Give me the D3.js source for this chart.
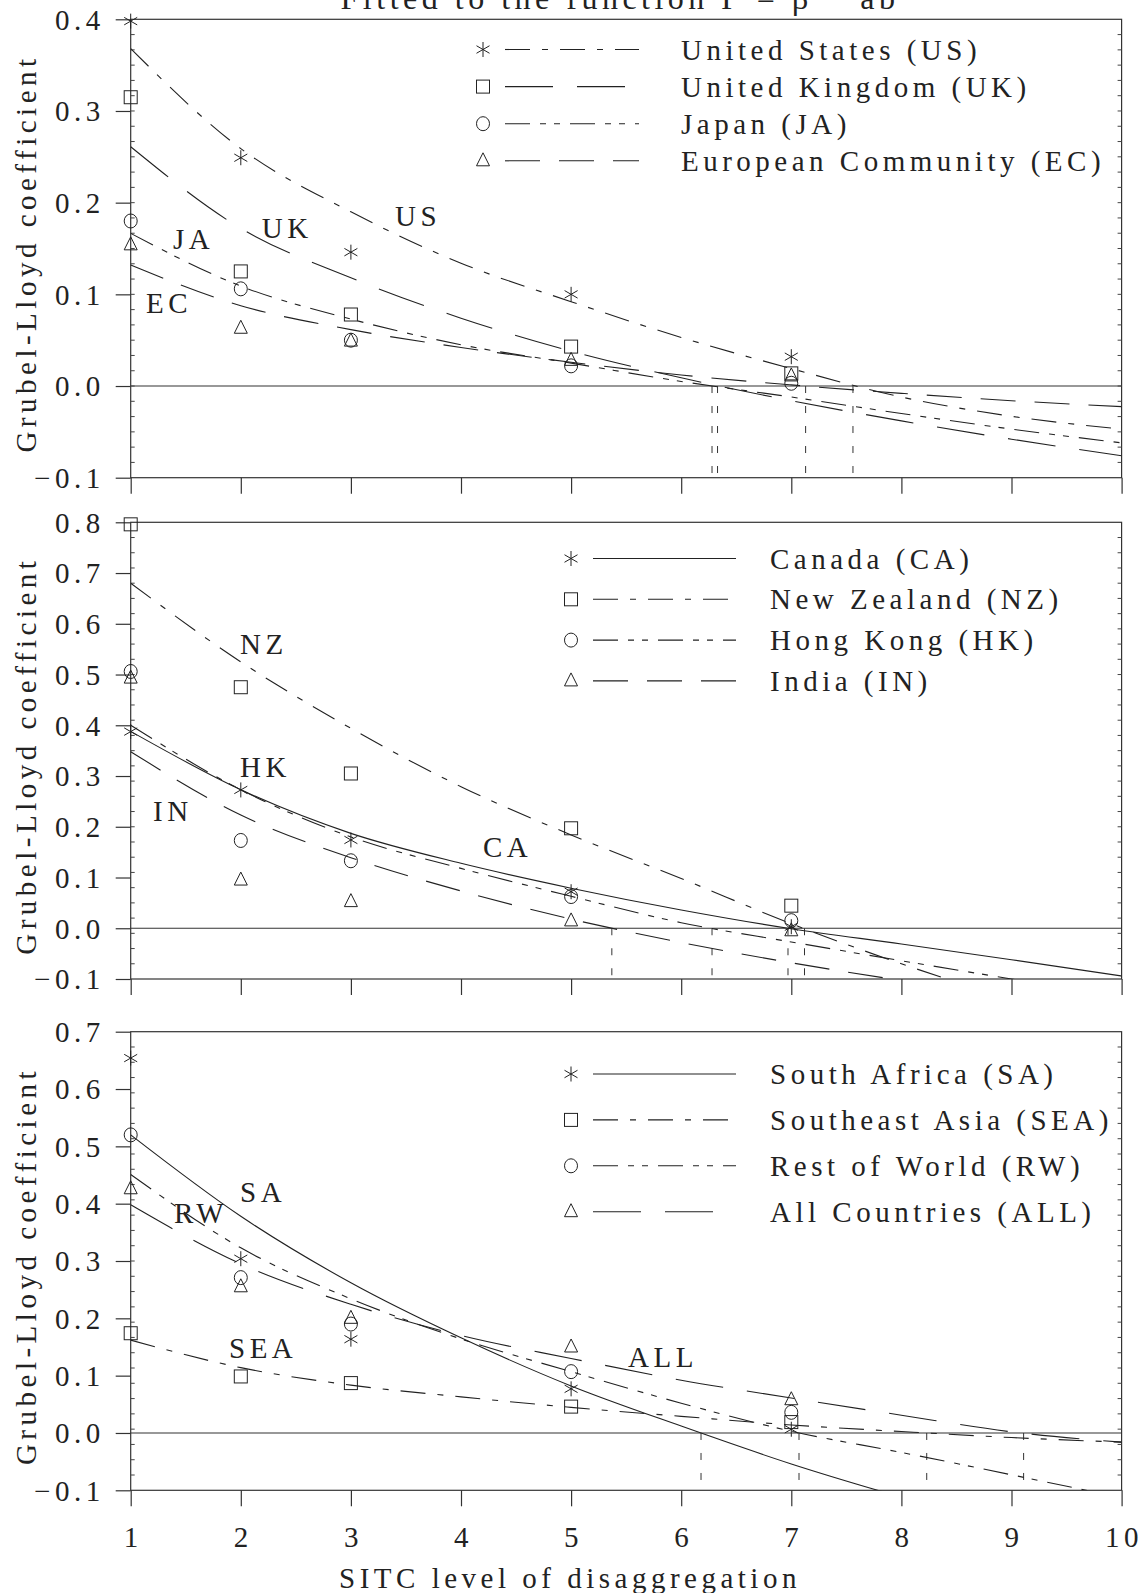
<!DOCTYPE html>
<html><head><meta charset="utf-8">
<script src="https://cdn.jsdelivr.net/npm/d3@7"></script>
<style>
body{margin:0;background:#fff;}
svg text{font-family:"Liberation Serif","Times New Roman",serif;fill:#222;letter-spacing:4.5px;font-size:29px;}
</style></head><body>
<svg id="c" width="1147" height="1593"></svg>
<script>
// ---------- data ----------
const fitLevels=[1,2,3,4,5,6,7,8,9,10];
const obsLevels=[1,2,3,5,7];
const xTickValues=[1,2,3,4,5,6,7,8,9,10];
const xTickLabels=["1","2","3","4","5","6","7","8","9","10"];

// panel 1
const yTicks1=[-0.1,0,0.1,0.2,0.3,0.4];
const yLabels1=["\u22120.1","0.0","0.1","0.2","0.3","0.4"];
const names1=["United States (US)","United Kingdom (UK)","Japan (JA)","European Community (EC)"];
const codes1=["US","UK","JA","EC"];
const usObs=[0.398,0.249,0.146,0.100,0.032];
const ukObs=[0.315,0.125,0.078,0.043,0.0138];
const jaObs=[0.180,0.106,0.050,0.022,0.003];
const ecObs=[0.154,0.063,0.049,0.028,0.011];
const usFit=[0.368,0.259,0.190,0.134,0.092,0.053,0.019,-0.012,-0.033,-0.047];
const ukFit=[0.261,0.172,0.118,0.074,0.038,0.009,-0.016,-0.038,-0.058,-0.076];
const jaFit=[0.1665,0.109,0.073,0.045,0.025,0.005,-0.012,-0.030,-0.047,-0.062];
const ecFit=[0.132,0.0876,0.0615,0.042,0.026,0.012,0.0012,-0.008,-0.016,-0.0225];
const zero1=[7.56,6.33,6.28,7.13];

// panel 2
const yTicks2=[-0.1,0,0.1,0.2,0.3,0.4,0.5,0.6,0.7,0.8];
const yLabels2=["\u22120.1","0.0","0.1","0.2","0.3","0.4","0.5","0.6","0.7","0.8"];
const names2=["Canada (CA)","New Zealand (NZ)","Hong Kong (HK)","India (IN)"];
const codes2=["CA","NZ","HK","IN"];
const caObs=[0.3875,0.2726,0.174,0.072,0.003];
const nzObs=[0.796,0.475,0.305,0.197,0.0445];
const hkObs=[0.506,0.173,0.133,0.0625,0.015];
const inObs=[0.493,0.095,0.0525,0.0145,-0.005];
const caFit=[0.388,0.273,0.187,0.128,0.079,0.036,-0.001,-0.031,-0.062,-0.094];
const nzFit=[0.680,0.525,0.394,0.279,0.184,0.098,0.009,-0.070,-0.140,-0.200];
const hkFit=[0.400,0.273,0.180,0.118,0.063,0.011,-0.027,-0.064,-0.100,-0.135];
const inFit=[0.348,0.223,0.139,0.0735,0.018,-0.028,-0.068,-0.103,-0.135,-0.165];
const zero2=[6.97,7.12,6.28,5.37];

// panel 3
const yTicks3=[-0.1,0,0.1,0.2,0.3,0.4,0.5,0.6,0.7];
const yLabels3=["\u22120.1","0.0","0.1","0.2","0.3","0.4","0.5","0.6","0.7"];
const names3=["South Africa (SA)","Southeast Asia (SEA)","Rest of World (RW)","All Countries (ALL)"];
const codes3=["SA","SEA","RW","ALL"];
const saObs=[0.654,0.304,0.1636,0.077,0.0065];
const seaObs=[0.174,0.0986,0.087,0.046,0.019];
const rwObs=[0.520,0.271,0.190,0.107,0.036];
const allObs=[0.426,0.255,0.200,0.150,0.058];
const saFit=[0.520,0.378,0.262,0.166,0.082,0.012,-0.054,-0.112,-0.165,-0.210];
const seaFit=[0.162,0.114,0.0835,0.063,0.0447,0.029,0.014,0.0025,-0.008,-0.016];
const rwFit=[0.451,0.323,0.234,0.164,0.107,0.052,0.003,-0.034,-0.073,-0.113];
const allFit=[0.398,0.295,0.2245,0.170,0.130,0.092,0.061,0.031,0.002,-0.016];
const zero3=[6.18,8.23,7.07,9.11];

const titleText="Fitted to the function  \u0393 = \u03b2 \u2212 ab";
const xTitle="SITC level of disaggregation";
const yTitle="Grubel-Lloyd coefficient";

// ---------- styles ----------
const DASHDOT="25,12,6,12", LONG="48,24", DDOT="25,10,6,8,6,10", MED="35,19";
const symbols=["star","square","circle","triangle"];

const panels=[
 {top:19.3,bottom:477.7,dom:[-0.1,0.4],ticks:yTicks1,labels:yLabels1,names:names1,codes:codes1,
  obs:[usObs,ukObs,jaObs,ecObs],fit:[usFit,ukFit,jaFit,ecFit],zero:zero1,
  dash:[DASHDOT,LONG,DDOT,MED],
  leg:{sx:483,l0:505,l1:639,tx:681,y0:49.5,dy:37.1},
  tag:[[3.40,0.1745],[2.19,0.161],[1.384,0.149],[1.139,0.0796]]},
 {top:522.3,bottom:979,dom:[-0.1,0.8],ticks:yTicks2,labels:yLabels2,names:names2,codes:codes2,
  obs:[caObs,nzObs,hkObs,inObs],fit:[caFit,nzFit,hkFit,inFit],zero:zero2,
  dash:[null,DASHDOT,DDOT,MED],
  leg:{sx:571,l0:593,l1:736,tx:770,y0:558.5,dy:40.8},
  tag:[[4.20,0.1405],[1.993,0.540],[1.993,0.298],[1.2025,0.211]]},
 {top:1031.7,bottom:1490.3,dom:[-0.1,0.7],ticks:yTicks3,labels:yLabels3,names:names3,codes:codes3,
  obs:[saObs,seaObs,rwObs,allObs],fit:[saFit,seaFit,rwFit,allFit],zero:zero3,
  dash:[null,DASHDOT,DDOT,LONG],
  leg:{sx:571,l0:593,l1:736,tx:770,y0:1074,dy:45.9},
  tag:[[1.993,0.403],[1.893,0.131],[1.393,0.366],[5.517,0.115]]}
];

const svg=d3.select("#c");
const X=d3.scaleLinear().domain([1,10]).range([130.7,1121.6]);
const INK="#222";

function drawSymbol(g,type,cx,cy){
  const s=g.append("g").attr("transform",`translate(${cx},${cy})`).attr("fill","none").attr("stroke",INK).attr("stroke-width",1);
  if(type==="star"){
    s.append("path").attr("d","M0,-7.5L0,7.5M-6.5,-3.75L6.5,3.75M-6.5,3.75L6.5,-3.75");
  }else if(type==="square"){
    s.append("rect").attr("x",-6.5).attr("y",-6.5).attr("width",13).attr("height",13);
  }else if(type==="circle"){
    s.append("ellipse").attr("rx",6.5).attr("ry",7);
  }else{
    s.append("path").attr("d","M0,-8L6.5,5L-6.5,5Z");
  }
}

// title (top of page, cut off as in the original)
svg.append("text").attr("x",620).attr("y",9).attr("text-anchor","middle")
  .style("font-size","32px").style("letter-spacing","4.5px").text(titleText);

panels.forEach((p,pi)=>{
  const Y=d3.scaleLinear().domain(p.dom).range([p.bottom,p.top]);
  const g=svg.append("g");
  const x0=X.range()[0], x1=X.range()[1];
  const clipId="clip"+pi;
  svg.append("clipPath").attr("id",clipId).append("rect")
    .attr("x",x0).attr("y",p.top).attr("width",x1-x0).attr("height",p.bottom-p.top);

  // frame
  g.append("rect").attr("x",x0).attr("y",p.top).attr("width",x1-x0).attr("height",p.bottom-p.top)
    .attr("fill","none").attr("stroke","#333").attr("stroke-width",1.2);
  // zero line
  g.append("line").attr("x1",x0).attr("x2",x1).attr("y1",Y(0)).attr("y2",Y(0))
    .attr("stroke","#333").attr("stroke-width",1.2);

  // y axis (major ticks outward)
  const yAxis=d3.axisLeft(Y).tickValues(p.ticks).tickSize(15).tickFormat((d,i)=>p.labels[i]);
  const ya=g.append("g").attr("transform",`translate(${x0},0)`).call(yAxis);
  ya.select(".domain").remove();
  ya.selectAll(".tick line").attr("stroke","#333").attr("stroke-width",1.2);
  ya.selectAll(".tick text").attr("x",-26).attr("dy","0.34em")
    .style("font-family",'"Liberation Serif",serif').style("font-size","29px").attr("fill",INK);

  // minor ticks (30 divisions) on left and right edges, inward
  const minor=d3.range(1,30).map(k=>p.top+(p.bottom-p.top)*k/30);
  g.selectAll(".mnl").data(minor).join("line").attr("x1",x0).attr("x2",x0+4).attr("y1",d=>d).attr("y2",d=>d).attr("stroke","#444");
  g.selectAll(".mnr").data(minor).join("line").attr("x1",x1-4).attr("x2",x1).attr("y1",d=>d).attr("y2",d=>d).attr("stroke","#444");

  // x axis ticks (downward)
  const xAxis=d3.axisBottom(X).tickValues(xTickValues).tickSize(16).tickFormat((d,i)=>pi===2?xTickLabels[i]:"");
  const xa=g.append("g").attr("transform",`translate(0,${p.bottom})`).call(xAxis);
  xa.select(".domain").remove();
  xa.selectAll(".tick line").attr("stroke","#333").attr("stroke-width",1.2);
  xa.selectAll(".tick text").attr("y",0).attr("dy",0).attr("transform","translate(2,57)")
    .style("font-family",'"Liberation Serif",serif').style("font-size","29px").attr("fill",INK);

  // vertical dashed lines at zero crossings
  g.selectAll(".zc").data(p.zero).join("line")
    .attr("x1",d=>X(d)).attr("x2",d=>X(d)).attr("y1",Y(0)).attr("y2",p.bottom)
    .attr("stroke","#333").attr("stroke-width",1).attr("stroke-dasharray","7,13");

  // fitted curves
  const line=d3.line().x(d=>X(d[0])).y(d=>Y(d[1])).curve(d3.curveMonotoneX);
  const cg=g.append("g").attr("clip-path",`url(#${clipId})`);
  p.fit.forEach((f,si)=>{
    cg.append("path").datum(fitLevels.map((lv,i)=>[lv,f[i]])).attr("d",line)
      .attr("fill","none").attr("stroke",INK).attr("stroke-width",1.1)
      .attr("stroke-dasharray",p.dash[si]);
  });

  // observations
  p.obs.forEach((o,si)=>{
    obsLevels.forEach((lv,i)=>drawSymbol(g,symbols[si],X(lv),Y(o[i])));
  });

  // curve tags
  p.tag.forEach((t,si)=>{
    g.append("text").attr("x",X(t[0])).attr("y",Y(t[1])).text(p.codes[si]);
  });

  // legend
  p.names.forEach((nm,si)=>{
    const yy=p.leg.y0+si*p.leg.dy;
    drawSymbol(g,symbols[si],p.leg.sx,yy);
    g.append("line").attr("x1",p.leg.l0).attr("x2",p.leg.l1).attr("y1",yy).attr("y2",yy)
      .attr("stroke",INK).attr("stroke-width",1.1).attr("stroke-dasharray",p.dash[si]);
    g.append("text").attr("x",p.leg.tx).attr("y",yy+10).text(nm);
  });

  // y title
  const cy=(p.top+p.bottom)/2+5;
  g.append("text").attr("transform",`translate(36,${cy}) rotate(-90)`).attr("text-anchor","middle").text(yTitle);
});

// x title
svg.append("text").attr("x",570).attr("y",1588).attr("text-anchor","middle").text(xTitle);
</script>
</body></html>
